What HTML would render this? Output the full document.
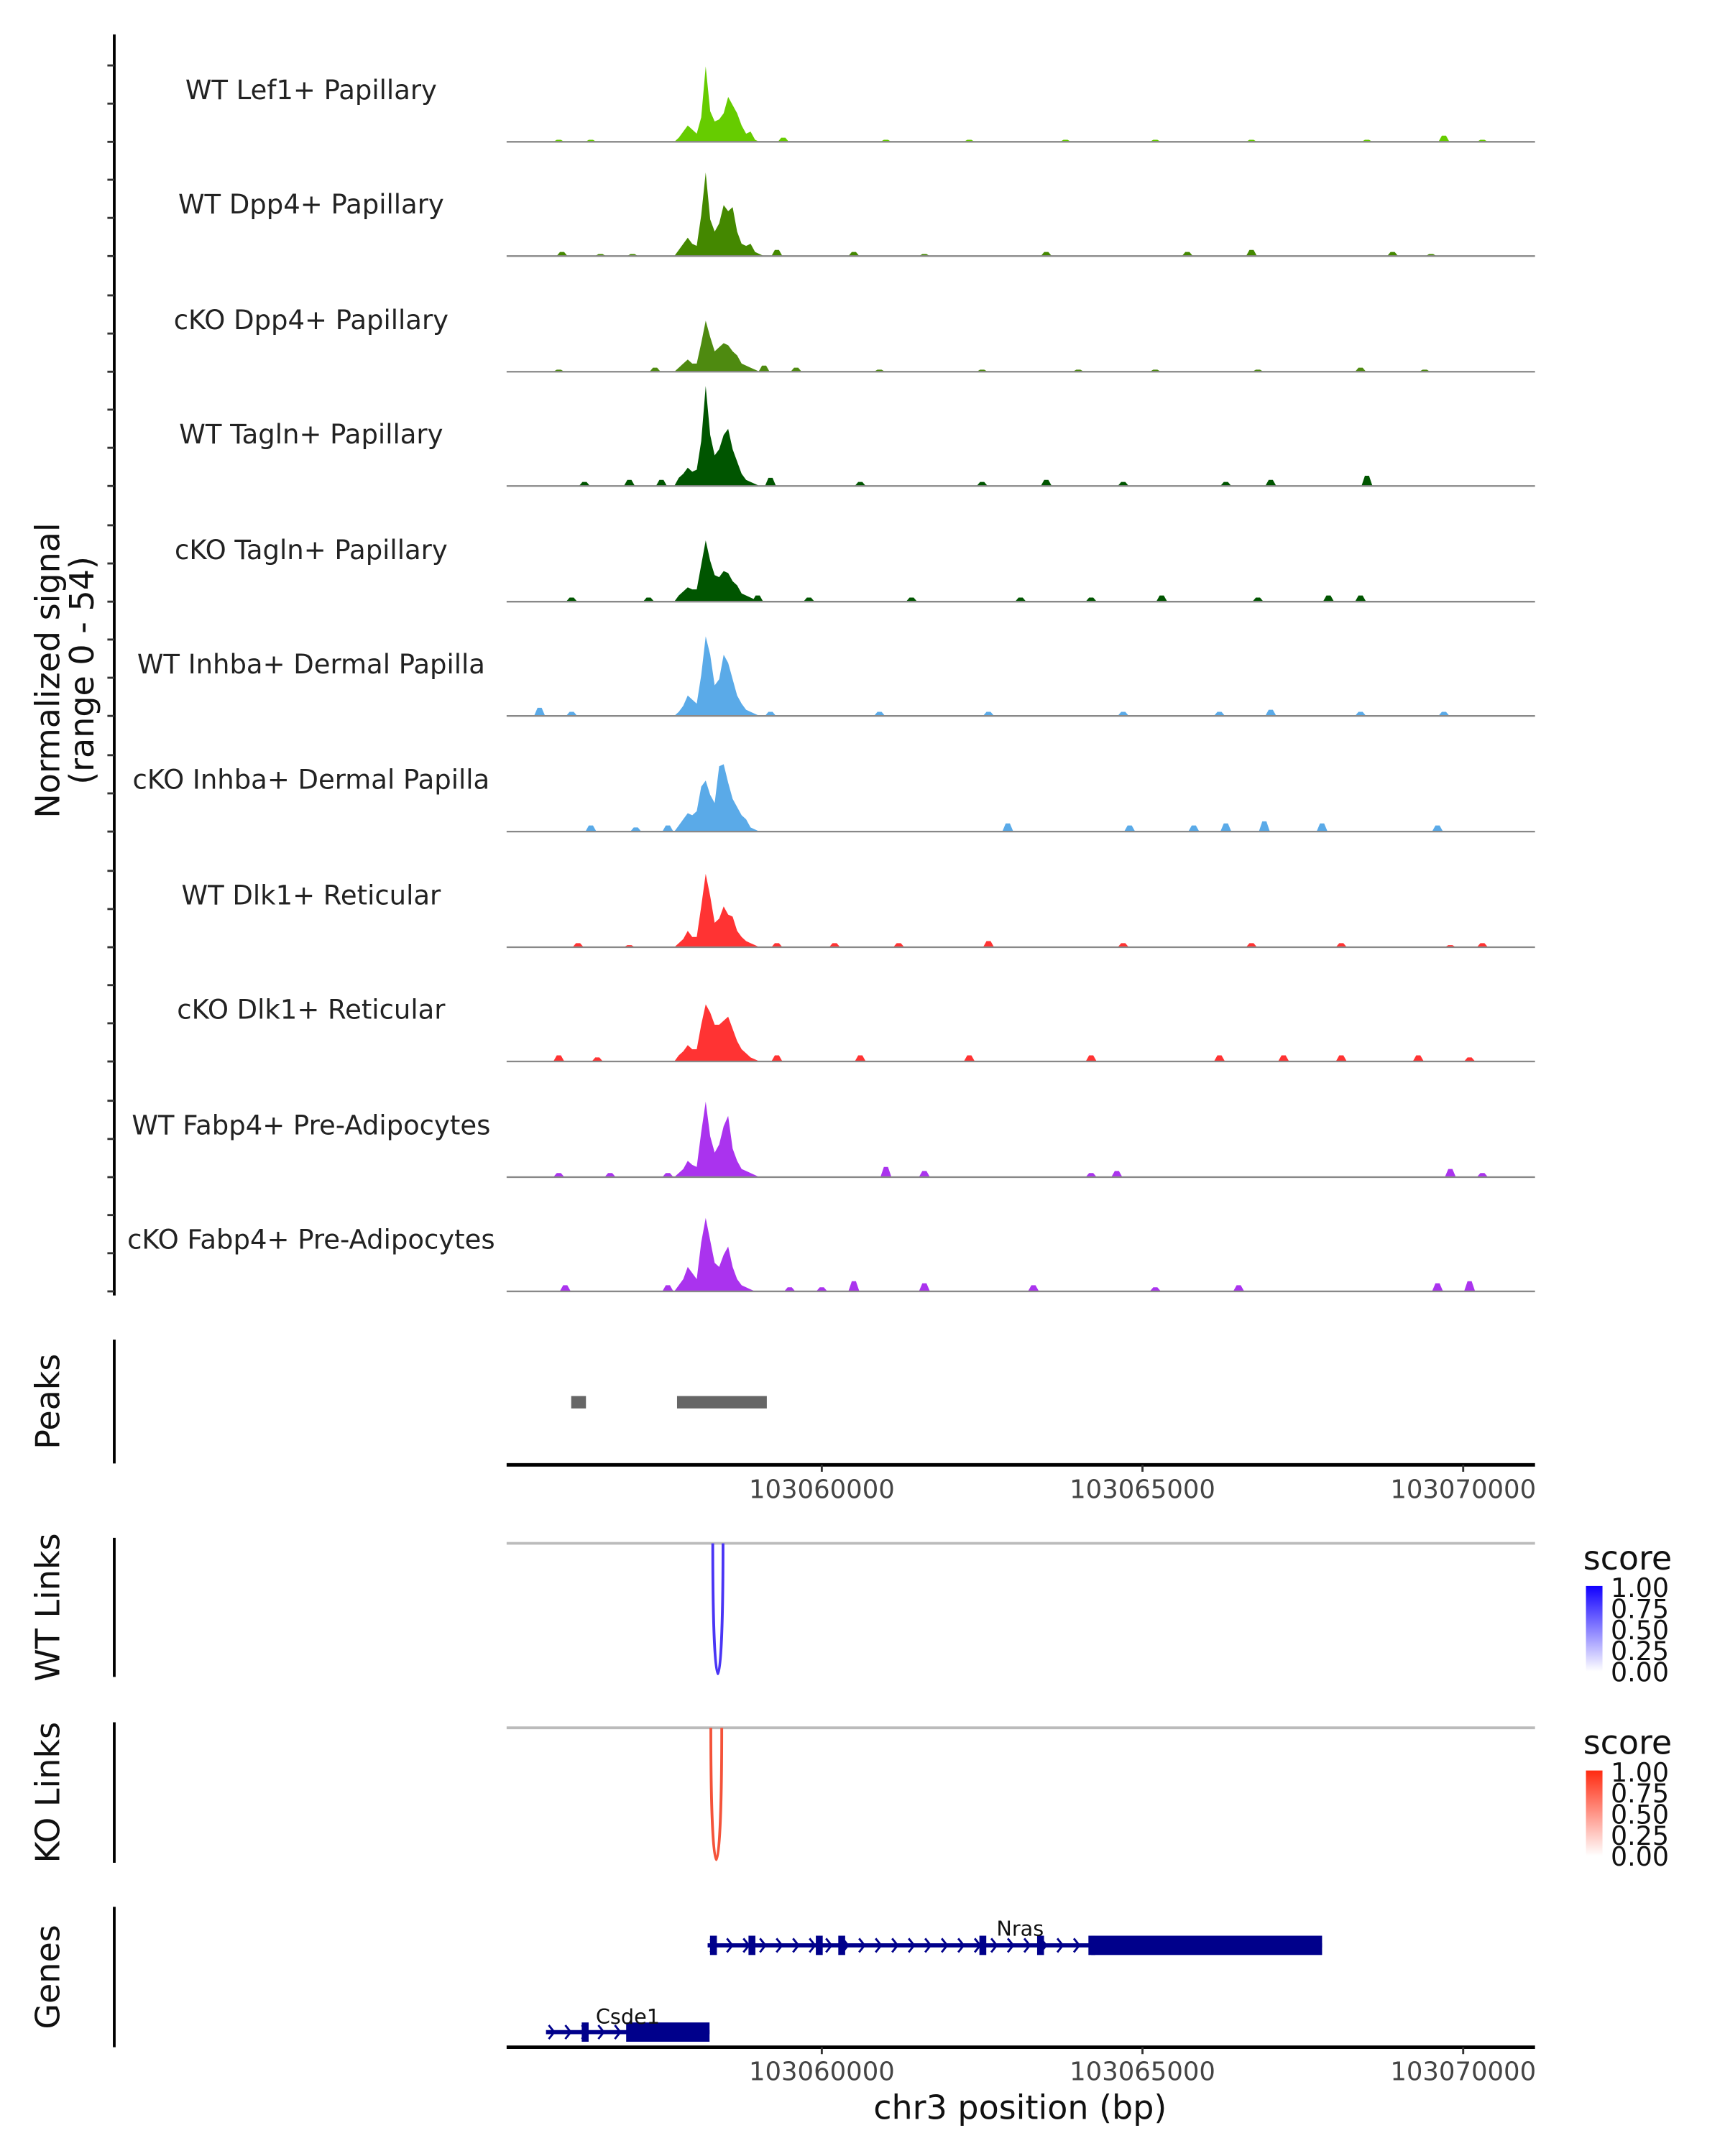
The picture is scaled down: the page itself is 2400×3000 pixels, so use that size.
<!DOCTYPE html>
<html><head><meta charset="utf-8"><style>
html,body{margin:0;padding:0;background:#fff}
svg{display:block}
text{font-family:"DejaVu Sans","Liberation Sans",sans-serif}
</style></head><body>
<svg id="chart" width="2400" height="3000" viewBox="0 0 1253 1566" preserveAspectRatio="none" xmlns="http://www.w3.org/2000/svg">
<g id="cov"></g>
<text transform="translate(43,487) rotate(-90)" text-anchor="middle" font-size="24" fill="#111">Normalized signal</text>
<text transform="translate(68,487) rotate(-90)" text-anchor="middle" font-size="24" fill="#111">(range 0 - 54)</text>
<g id="lower"></g>
</svg>
<script>
const NS='http://www.w3.org/2000/svg';
const trackNames=['WT Lef1+ Papillary','WT Dpp4+ Papillary','cKO Dpp4+ Papillary','WT Tagln+ Papillary','cKO Tagln+ Papillary','WT Inhba+ Dermal Papilla','cKO Inhba+ Dermal Papilla','WT Dlk1+ Reticular','cKO Dlk1+ Reticular','WT Fabp4+ Pre-Adipocytes','cKO Fabp4+ Pre-Adipocytes'];
const trackColors=['#66cc00','#448800','#4e8a10','#005500','#005500','#5aaae8','#5aaae8','#ff3333','#ff3333','#aa33ee','#aa33ee'];
const peakBins=[103057700,103057770,103057840,103057910,103057980,103058050,103058120,103058190,103058260,103058330,103058400,103058470,103058540,103058610,103058680,103058750,103058820,103058890,103058960,103059030,103059100];
const peakVals=[
[0,2,5,8,6,4,12,37,15,10,11,14,22,18,14,8,4,5,1,0,0],
[0,3,6,9,6,5,20,41,18,12,16,25,22,24,12,6,5,6,2,1,0],
[0,2,4,6,4,4,14,25,17,10,12,14,13,10,8,4,3,2,1,0,0],
[0,4,6,9,7,8,22,49,25,15,18,25,28,18,12,6,3,2,1,0,0],
[0,3,5,7,6,6,18,30,20,13,12,15,14,10,8,4,3,2,1,0,0],
[0,2,5,10,8,6,20,39,30,15,18,30,26,18,10,6,3,2,1,0,0],
[0,3,6,9,8,10,22,25,18,14,32,33,24,16,12,8,6,2,1,0,0],
[0,2,4,8,5,5,20,36,25,12,14,20,16,15,8,5,3,2,1,0,0],
[0,3,5,8,6,6,18,28,24,18,18,20,22,16,10,6,4,2,1,0,0],
[0,2,4,8,6,5,22,37,20,12,16,25,30,14,8,4,3,2,1,0,0],
[0,3,6,12,9,6,24,36,25,14,12,18,22,12,6,3,2,1,0,0,0]];
const blipPos=[
[103055900,103056400,103059400,103061000,103062300,103063800,103065200,103066700,103068500,103069700,103070300],
[103055950,103056550,103057050,103059300,103060500,103061600,103063500,103065700,103066700,103068900,103069500],
[103055900,103057400,103059100,103059600,103060900,103062500,103064000,103065200,103066800,103068400,103069400],
[103056300,103057000,103057500,103059200,103060600,103062500,103063500,103064700,103066300,103067000,103068500,103070300],
[103056100,103057300,103059000,103059800,103061400,103063100,103064200,103065300,103066800,103067900,103068400,103069500],
[103055600,103056100,103059200,103060900,103062600,103064700,103066200,103067000,103068400,103069700],
[103056400,103057100,103057600,103062900,103064800,103065800,103066300,103066900,103067800,103069600],
[103056200,103057000,103059300,103060200,103061200,103062600,103064700,103066700,103068100,103069800,103070300],
[103055900,103056500,103059300,103060600,103062300,103064200,103066200,103067200,103068100,103069300,103070100],
[103055900,103056700,103057600,103061000,103061600,103064200,103064600,103069800,103070300],
[103056000,103057600,103059500,103060000,103060500,103061600,103063300,103065200,103066500,103069600,103070100]];
const blipVals=[
[1,1,2,1,1,1,1,1,1,3,1],
[2,1,1,3,2,1,2,2,3,2,1],
[1,2,3,2,1,1,1,1,1,2,1],
[2,3,3,4,2,2,3,2,2,3,5],
[2,2,3,2,2,2,2,3,2,3,3],
[4,2,2,2,2,2,2,3,2,2],
[3,2,3,4,3,3,4,5,4,3],
[2,1,2,2,2,3,2,2,2,1,2],
[3,2,3,3,3,3,3,3,3,3,2],
[2,2,2,5,3,2,3,4,2],
[3,3,2,2,5,4,3,2,3,4,5]];
const xTicks=[103060000,103065000,103070000];
const peakStart=[103056050,103057700];
const peakEnd=[103056280,103059100];
const linkWT=[103058300,103058460,1.0];
const linkKO=[103058270,103058440,0.8];

const X0=368,X1=1115,BP0=103055086,BP1=103071120;
const xs=bp=>X0+(bp-BP0)*(X1-X0)/(BP1-BP0);
const MAXV=54,TH=80;
const baselines=[103,186,270,353,437,520,604,688,771,855,938];
function el(tag,attrs,parent,txt){const e=document.createElementNS(NS,tag);for(const k in attrs)e.setAttribute(k,attrs[k]);if(txt!==undefined)e.textContent=txt;parent.appendChild(e);return e;}
const cov=document.getElementById('cov'), low=document.getElementById('lower');
let ax=el('line',{x1:83,y1:25,x2:83,y2:941,stroke:'#000','stroke-width':2},cov);

baselines.forEach((b,i)=>{
 for(let k=0;k<3;k++){const y=b-k*TH/3*1.04;
  const t=el('line',{x1:78,y1:y,x2:83,y2:y,stroke:'#333','stroke-width':1.5},cov);
  }
 const g=el('g',{},cov);
 
 const lab=el('text',{x:226,y:b-31,'text-anchor':'middle','font-size':19.3,fill:'#222'},g,trackNames[i]);
 
 const yv=v=>b-v/MAXV*TH;
 let d='M'+xs(peakBins[0])+','+b;
 peakBins.forEach((p,j)=>{d+=' L'+xs(p).toFixed(2)+','+yv(peakVals[i][j]).toFixed(2);});
 d+=' L'+xs(peakBins[peakBins.length-1])+','+b+' Z';
 blipPos[i].forEach((p,j)=>{const x=xs(p);d+=' M'+(x-4)+','+b+' L'+(x-1.5)+','+yv(blipVals[i][j])+' L'+(x+1.5)+','+yv(blipVals[i][j])+' L'+(x+4)+','+b+' Z';});
 const a=el('path',{d:d,fill:trackColors[i]},g);
 
 const bl=el('line',{x1:X0,y1:b,x2:X1,y2:b,stroke:'#888','stroke-width':1.2},g);
 
});
function leftAxis(y1,y2,label,name){
 const l=el('line',{x1:83,y1:y1,x2:83,y2:y2,stroke:'#000','stroke-width':2},low);
 
 const c=(y1+y2)/2;
 const t=el('text',{transform:'translate(43,'+c+') rotate(-90)','text-anchor':'middle','font-size':24,fill:'#111'},low,label);
 
}
function xAxis(y,name){
 const l=el('line',{x1:X0,y1:y,x2:X1,y2:y,stroke:'#000','stroke-width':2.5},low);
 
 xTicks.forEach(t=>{const x=xs(t);
  const tk=el('line',{x1:x,y1:y,x2:x,y2:y+5,stroke:'#333','stroke-width':1.5},low);
  
  const tl=el('text',{x:x,y:y+24,'text-anchor':'middle','font-size':18.5,fill:'#444'},low,String(t));
  });
}
leftAxis(973,1063,'Peaks','peaks');
peakStart.forEach((s,i)=>{const r=el('rect',{x:xs(s)+2,y:1014,width:xs(peakEnd[i])-xs(s),height:9,fill:'#666'},low);
 });
xAxis(1064,'peaks');
function linkPanel(y1,y2,link,col,grad,name){
 leftAxis(y1,y2,name==='wt-links'?'WT Links':'KO Links',name);
 const gl=el('line',{x1:X0,y1:y1+4,x2:X1,y2:y1+4,stroke:'#bbb','stroke-width':2},low);
 
 const a=xs(link[0]),b=xs(link[1]),depth=(y2-y1-6)*link[2]/(name==='wt-links'?1:0.8);
 const p=el('path',{d:'M'+a+','+(y1+4)+' C'+a+','+(y1+4+depth*1.33)+' '+b+','+(y1+4+depth*1.33)+' '+b+','+(y1+4),fill:'none',stroke:col,'stroke-width':2},low);
 
 const lt=el('text',{x:1150,y:y1+23,'font-size':24,fill:'#111'},low,'score');
 
 const r=el('rect',{x:1152,y:y1+35,width:12,height:62,fill:'url(#'+grad+')'},low);
 
 ['1.00','0.75','0.50','0.25','0.00'].forEach((s,k)=>{
  const t=el('text',{x:1170,y:y1+43+k*15.3,'font-size':19,fill:'#111'},low,s);
  });
}
const defs=el('defs',{},low);
const g1=el('linearGradient',{id:'gb',x1:0,y1:0,x2:0,y2:1},defs);
el('stop',{offset:0,'stop-color':'#1100ff'},g1);el('stop',{offset:1,'stop-color':'#ffffff'},g1);
const g2=el('linearGradient',{id:'gr',x1:0,y1:0,x2:0,y2:1},defs);
el('stop',{offset:0,'stop-color':'#ff2a10'},g2);el('stop',{offset:1,'stop-color':'#ffffff'},g2);
linkPanel(1117,1218,linkWT,'#4a35f5','gb','wt-links');
linkPanel(1251,1353,linkKO,'#f4533a','gr','ko-links');
leftAxis(1385,1487,'Genes','genes');
const nrasExons=[103058300,103058900,103059950,103060300,103062500,103063400,103064200];
function gene(name,s,e,thickS,exons,y,lx,ly){
 const g=el('g',{},low);
 el('line',{x1:xs(s),y1:y,x2:xs(e),y2:y,stroke:'#00008b','stroke-width':3},g);
 for(let x=xs(s)+4;x<xs(thickS)-4;x+=12){el('path',{d:'M'+(x-2)+','+(y-5)+' L'+(x+2)+','+y+' L'+(x-2)+','+(y+5),fill:'none',stroke:'#00008b','stroke-width':1.5},g);}
 exons.forEach(p=>el('rect',{x:xs(p)-2,y:y-7,width:5,height:14,fill:'#00008b'},g));
 el('rect',{x:xs(thickS),y:y-7,width:xs(e)-xs(thickS),height:14,fill:'#00008b'},g);
 const t=el('text',{x:lx,y:ly,'text-anchor':'middle','font-size':15,fill:'#111'},g,name);
 
}
gene('Nras',103058220,103067800,103064200,nrasExons,1413,741,1406);
gene('Csde1',103055700,103058250,103056950,[103056300],1476,456,1470);
xAxis(1487,'genes');
const xt=el('text',{x:741,y:1539,'text-anchor':'middle','font-size':24,fill:'#111'},low,'chr3 position (bp)');

</script>
</body></html>
